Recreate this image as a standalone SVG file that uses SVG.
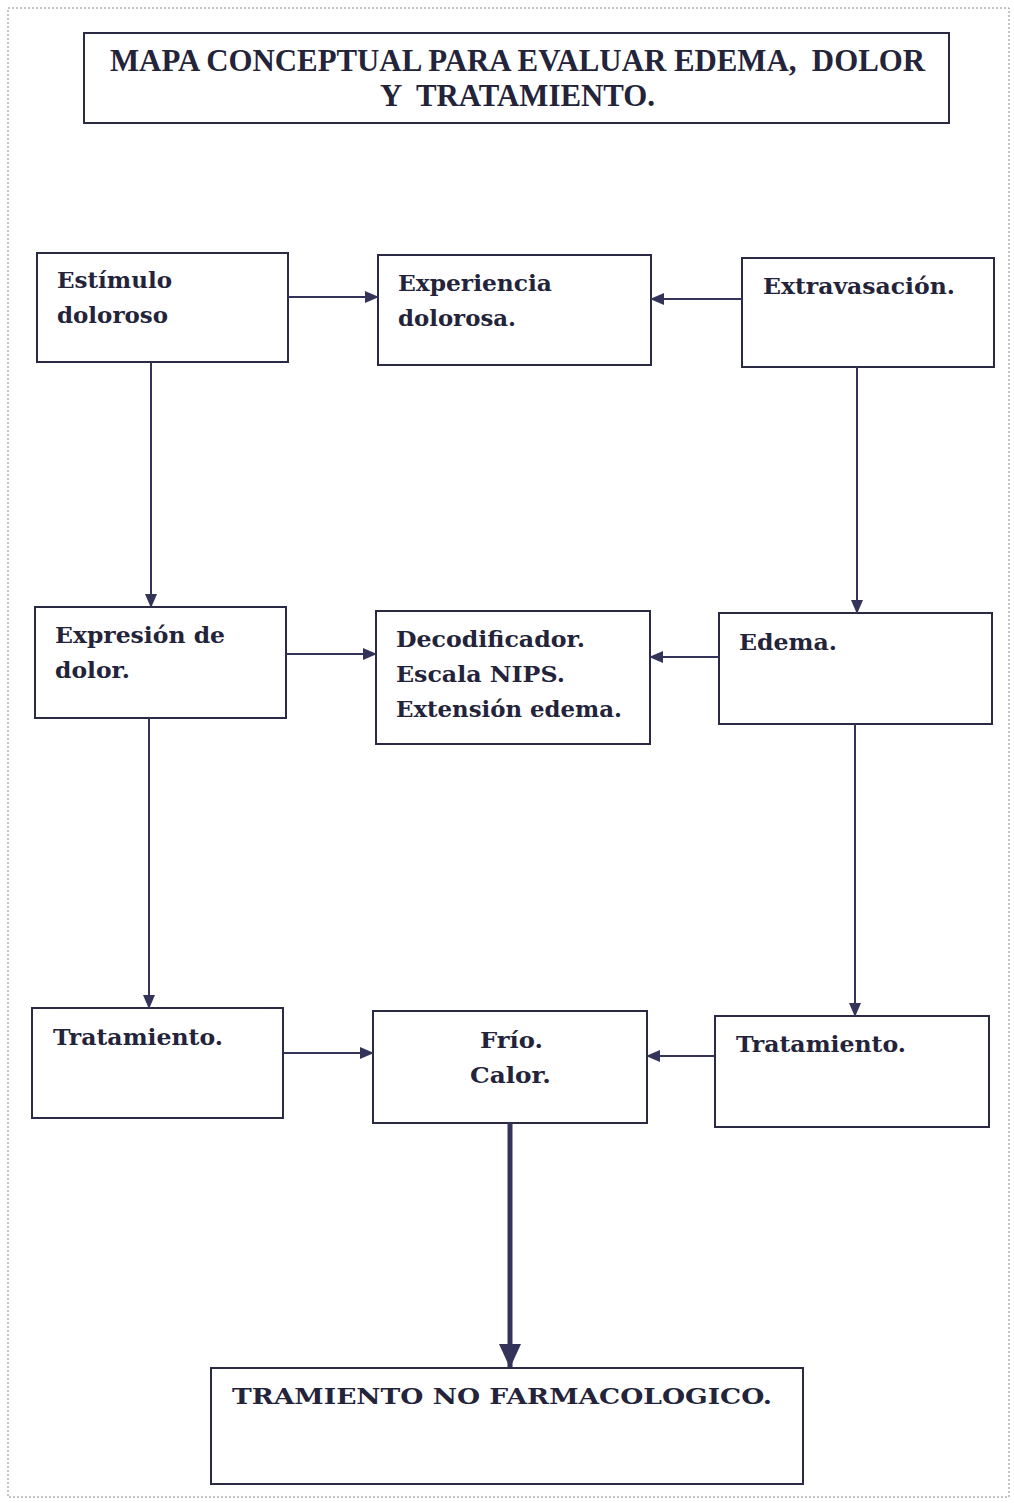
<svg xmlns="http://www.w3.org/2000/svg" width="1014" height="1505" viewBox="0 0 1014 1505">
<defs>
<style>
.box{fill:#fff;stroke:#2a2a45;stroke-width:2}
.t{font-family:"DejaVu Serif",serif;font-weight:bold;font-size:23px;fill:#23233a}
.title{font-family:"Liberation Serif",serif;font-weight:bold;font-size:31px;fill:#23233a;white-space:pre}
.c{stroke:#34345a;stroke-width:2;fill:none}
.ct{stroke:#34345a;stroke-width:5;fill:none}
</style>
<marker id="ah" markerWidth="14" markerHeight="12" refX="13" refY="6" orient="auto" markerUnits="userSpaceOnUse"><path d="M0,0 L14,6 L0,12 Z" fill="#34345a"/></marker>
<marker id="ahb" markerWidth="24" markerHeight="22" refX="23" refY="11" orient="auto" markerUnits="userSpaceOnUse"><path d="M0,0 L24,11 L0,22 Z" fill="#34345a"/></marker>
</defs>
<rect width="1014" height="1505" fill="#fff"/>
<rect x="8" y="8" width="1001" height="1489" fill="none" stroke="#888" stroke-width="1" stroke-dasharray="2,2"/>
<g id="title"><rect class="box" x="84" y="33" width="865" height="90"/><text class="title" x="110" y="71" textLength="815" lengthAdjust="spacingAndGlyphs" xml:space="preserve">MAPA CONCEPTUAL PARA EVALUAR EDEMA,  DOLOR</text><text class="title" x="380" y="106" textLength="275" lengthAdjust="spacingAndGlyphs" xml:space="preserve">Y  TRATAMIENTO.</text></g>
<g id="estimulo"><rect class="box" x="37" y="253" width="251" height="109"/><text class="t" x="57" y="288" textLength="115" lengthAdjust="spacingAndGlyphs">Estímulo</text><text class="t" x="57" y="323" textLength="111" lengthAdjust="spacingAndGlyphs">doloroso</text></g>
<g id="experiencia"><rect class="box" x="378" y="255" width="273" height="110"/><text class="t" x="398" y="291" textLength="154" lengthAdjust="spacingAndGlyphs">Experiencia</text><text class="t" x="398" y="326" textLength="118" lengthAdjust="spacingAndGlyphs">dolorosa.</text></g>
<g id="extravasacion"><rect class="box" x="742" y="258" width="252" height="109"/><text class="t" x="763" y="294" textLength="192" lengthAdjust="spacingAndGlyphs">Extravasación.</text></g>
<g id="expresion"><rect class="box" x="35" y="607" width="251" height="111"/><text class="t" x="55" y="643" textLength="170" lengthAdjust="spacingAndGlyphs">Expresión de</text><text class="t" x="55" y="678" textLength="75" lengthAdjust="spacingAndGlyphs">dolor.</text></g>
<g id="decodificador"><rect class="box" x="376" y="611" width="274" height="133"/><text class="t" x="396" y="647" textLength="189" lengthAdjust="spacingAndGlyphs">Decodificador.</text><text class="t" x="396" y="682" textLength="169" lengthAdjust="spacingAndGlyphs">Escala NIPS.</text><text class="t" x="396" y="717" textLength="226" lengthAdjust="spacingAndGlyphs">Extensión edema.</text></g>
<g id="edema"><rect class="box" x="719" y="613" width="273" height="111"/><text class="t" x="739" y="650" textLength="98" lengthAdjust="spacingAndGlyphs">Edema.</text></g>
<g id="tratamiento1"><rect class="box" x="32" y="1008" width="251" height="110"/><text class="t" x="53" y="1045" textLength="170" lengthAdjust="spacingAndGlyphs">Tratamiento.</text></g>
<g id="friocalor"><rect class="box" x="373" y="1011" width="274" height="112"/><text class="t" x="480" y="1048" textLength="63" lengthAdjust="spacingAndGlyphs">Frío.</text><text class="t" x="470" y="1083" textLength="81" lengthAdjust="spacingAndGlyphs">Calor.</text></g>
<g id="tratamiento2"><rect class="box" x="715" y="1016" width="274" height="111"/><text class="t" x="736" y="1052" textLength="170" lengthAdjust="spacingAndGlyphs">Tratamiento.</text></g>
<g id="nofarmaco"><rect class="box" x="211" y="1368" width="592" height="116"/><text class="t" x="232" y="1404" textLength="540" lengthAdjust="spacingAndGlyphs">TRAMIENTO NO FARMACOLOGICO.</text></g>
<g id="connectors">
<line class="c" x1="288" y1="297" x2="378" y2="297" marker-end="url(#ah)"/>
<line class="c" x1="742" y1="299" x2="651" y2="299" marker-end="url(#ah)"/>
<line class="c" x1="151" y1="362" x2="151" y2="607" marker-end="url(#ah)"/>
<line class="c" x1="857" y1="367" x2="857" y2="613" marker-end="url(#ah)"/>
<line class="c" x1="286" y1="654" x2="376" y2="654" marker-end="url(#ah)"/>
<line class="c" x1="719" y1="657" x2="650" y2="657" marker-end="url(#ah)"/>
<line class="c" x1="149" y1="718" x2="149" y2="1008" marker-end="url(#ah)"/>
<line class="c" x1="855" y1="724" x2="855" y2="1016" marker-end="url(#ah)"/>
<line class="c" x1="283" y1="1053" x2="373" y2="1053" marker-end="url(#ah)"/>
<line class="c" x1="715" y1="1056" x2="647" y2="1056" marker-end="url(#ah)"/>
<line class="ct" x1="510" y1="1123" x2="510" y2="1367" marker-end="url(#ahb)"/>
</g>
</svg>
